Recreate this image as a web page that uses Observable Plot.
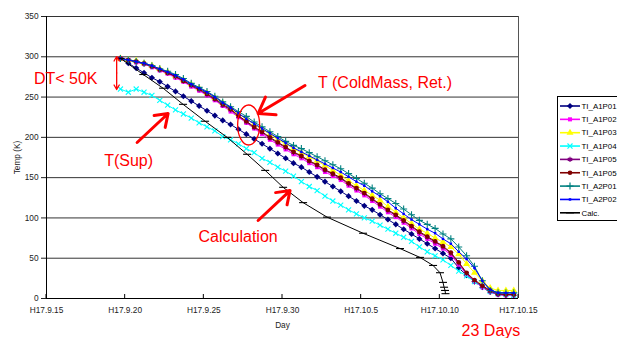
<!DOCTYPE html>
<html><head><meta charset="utf-8">
<script src="https://cdn.jsdelivr.net/npm/d3@7"></script>
<script src="https://cdn.jsdelivr.net/npm/@observablehq/plot@0.6"></script>
<style>
html,body{margin:0;padding:0;background:#fff;}
#chart{width:617px;height:338px;overflow:hidden;}
</style></head><body><div id="chart"></div>
<script>
// ---- data (days since H17.9.15, temperature in K) ----
const days = [4.7,5.2,5.7,6.2,6.7,7.2,7.7,8.2,8.7,9.2,9.7,10.2,10.7,11.2,11.7,12.2,12.7,13.2,13.7,14.2,14.7,15.2,15.7,16.2,16.7,17.2,17.7,18.2,18.7,19.2,19.7,20.2,20.7,21.2,21.7,22.2,22.7,23.2,23.7,24.2,24.7,25.2,25.7,26.2,26.7,27.2,27.7,28.2,28.7,29.2,29.7];
const TI_A1P01 = [298,292,286,280,274,269,263,257,251,245,239,233,227,221,216,210,204,198,192,186,180,174,168,163,157,151,145,139,133,127,121,115,110,104,98,92,86,80,74,68,62,56,50,38,29,21,14,8,5,4,4];
const TI_A1P02 = [298,296,293,291,287,283,279,274,269,263,258,252,246,239,232,225,218,211,204,197,191,185,179,174,168,163,157,152,147,140,134,128,121,114,107,101,94,87,80,74,68,62,54,42,30,21,14,8,5,4,4];
const TI_A1P03 = [298,296,295,292,289,285,281,276,271,266,261,255,249,243,236,229,223,216,210,204,197,192,186,181,176,171,165,159,153,146,140,134,128,122,114,107,100,93,86,81,75,70,64,55,43,32,22,13,10,10,10];
const TI_A1P04 = [260,256,260,256,252,246,240,234,229,224,218,213,208,201,197,192,186,181,174,169,163,158,152,145,139,134,127,121,116,110,105,100,96,91,86,81,76,71,64,58,53,48,41,34,28,21,15,9,6,5,4];
const TI_A1P05 = [298,296,294,291,288,284,280,275,270,264,259,253,247,240,234,226,219,212,206,199,193,187,181,176,170,165,159,154,149,142,136,130,123,116,109,103,96,89,82,76,70,64,56,44,31,22,15,9,5,5,5];
const TI_A1P05b = [298,296,294,292,288,284,280,276,270,265,260,254,248,241,235,227,220,213,207,200,194,188,182,177,171,166,160,155,150,143,137,131,124,117,110,104,97,90,83,77,71,65,57,45,32,23,16,10,6,5,5];
const TI_A2P01 = [298,296,294,292,289,285,282,278,273,267,262,257,251,244,238,232,226,219,213,207,201,195,190,186,181,176,171,166,161,155,149,143,137,130,124,118,111,104,97,92,87,80,74,64,53,40,22,10,7,7,7];
const TI_A2P02 = [298,296,294,292,289,285,281,277,272,266,261,256,250,243,237,230,223,217,211,205,199,193,187,182,177,172,167,162,157,151,145,140,133,127,120,112,105,98,92,86,81,74,68,58,49,38,22,11,7,7,7];
const calcDays = [4.7,6.15,7.41,8.68,10.08,11.48,12.75,13.9,15.04,16.31,17.83,20.12,22.47,23.74,24.57,25.01,25.2,25.27,25.33,25.36];
const calcTemp = [298,278,261,241,220,200,179,159,138,119,101,81,62,51,41,32,20,14,10,6];

const seriesNames = ["TI_A1P01","TI_A1P02","TI_A1P03","TI_A1P04","TI_A1P05","TI_A1P05","TI_A2P01","TI_A2P02","Calc."];
const seriesValues = [TI_A1P01,TI_A1P02,TI_A1P03,TI_A1P04,TI_A1P05,TI_A1P05b,TI_A2P01,TI_A2P02];

const xTickDays = [0,5,10,15,20,25,30];
const xTickLabels = ["H17.9.15","H17.9.20","H17.9.25","H17.9.30","H17.10.5","H17.10.10","H17.10.15"];
const yTicks = [0,50,100,150,200,250,300,350];

// annotation texts and where they sit (day, K)
const noteText = ["DT< 50K","T(Sup)","T (ColdMass, Ret.)","Calculation","23 Days"];
const noteDay = [1.22,5.22,21.52,12.18,28.25];
const noteTemp = [273,171,268,76,-40];

// ---- styles ----
const dashSymbol = {draw(ctx, size){const w = Math.sqrt(size) * 0.75; ctx.moveTo(-w, 0); ctx.lineTo(w, 0);}};
const rhombSymbol = {draw(ctx, size){const h = Math.sqrt(size) * 0.72; ctx.moveTo(0, -h); ctx.lineTo(h, 0); ctx.lineTo(0, h); ctx.lineTo(-h, 0); ctx.closePath();}};
const styles = [
  {color:"#000080", symbol:rhombSymbol, r:2.4, filled:true},
  {color:"#FF00FF", symbol:"square", r:2.3, filled:true},
  {color:"#FFFF00", symbol:"triangle", r:2.6, filled:true},
  {color:"#00FFFF", symbol:"times", r:2.4, filled:false},
  {color:"#800080", symbol:"asterisk", r:2.4, filled:false},
  {color:"#800000", symbol:"circle", r:2.3, filled:true},
  {color:"#008080", symbol:"plus", r:2.4, filled:false},
  {color:"#0000FF", symbol:"square", r:1.4, filled:true},
  {color:"#000000", symbol:dashSymbol, r:3.0, filled:false}
];

const seriesRows = seriesValues.map(vals => days.map((d, i) => ({day: d, T: vals[i]})));
seriesRows.push(calcDays.map((d, i) => ({day: d, T: calcTemp[i]})));

const seriesMarks = [];
seriesRows.forEach((rows, k) => {
  const s = styles[k];
  seriesMarks.push(Plot.line(rows, {x: "day", y: "T", stroke: s.color, strokeWidth: 1}));
  seriesMarks.push(Plot.dot(rows, s.filled
    ? {x: "day", y: "T", symbol: () => s.symbol, r: s.r, fill: s.color, stroke: "none"}
    : {x: "day", y: "T", symbol: () => s.symbol, r: s.r, stroke: s.color, strokeWidth: 1.1, fill: "none"}));
});

const notes = noteText.map((t, i) => ({text: t, day: noteDay[i], T: noteTemp[i]}));
const red = "#FF0000";
const font = "'Liberation Sans', Arial, sans-serif";

const chart = Plot.plot({
  width: 617, height: 338,
  marginLeft: 46, marginRight: 99, marginTop: 16, marginBottom: 40,
  x: {domain: [0, 30]},
  y: {domain: [0, 350]},
  symbol: {type: "identity"},
  style: {fontFamily: font, fontSize: "8.3px", color: "#222", background: "#fff", overflow: "visible"},
  marks: [
    Plot.ruleY(yTicks, {stroke: "#333", strokeWidth: 1}),
    Plot.ruleX([30], {stroke: "#555"}),
    Plot.axisY({ticks: yTicks, tickSize: 5, tickPadding: 3, label: "Temp (K)", labelAnchor: "center", labelArrow: "none", labelOffset: 32}),
    Plot.axisX({ticks: xTickDays, tickFormat: d => xTickLabels[xTickDays.indexOf(d)], tickSize: 0, tickPadding: 9, label: "Day", labelAnchor: "center", labelArrow: "none", labelOffset: 29}),
    Plot.ruleX([0], {stroke: "#000"}),
    Plot.ruleY([0], {stroke: "#000"}),
    ...seriesMarks,
    // double arrow for DT
    Plot.arrow([0], {x1: () => 4.46, y1: () => 280, x2: () => 4.46, y2: () => 300.3, stroke: red, strokeWidth: 1.3, headLength: 6, headAngle: 60}),
    Plot.arrow([0], {x1: () => 4.46, y1: () => 280, x2: () => 4.46, y2: () => 259.4, stroke: red, strokeWidth: 1.3, headLength: 6, headAngle: 60}),
    // pointer arrows
    Plot.arrow([
      {x1: 5.76, y1: 193.6, x2: 7.73, y2: 229.6},
      {x1: 16.43, y1: 264.4, x2: 13.45, y2: 229.6},
      {x1: 13.45, y1: 96.8, x2: 15.48, y2: 134}
    ], {x1: "x1", y1: "y1", x2: "x2", y2: "y2", stroke: red, strokeWidth: 3, headLength: 9, headAngle: 70}),
    Plot.text(notes, {x: "day", y: "T", text: "text", fill: red, fontSize: 16, textAnchor: "middle", fontFamily: font})
  ]
});
document.getElementById("chart").appendChild(chart);

// ---- extra decorations drawn with the plot's own scales ----
const svg = d3.select(chart);
const sx = chart.scale("x"), sy = chart.scale("y");
const g = svg.append("g");
xTickDays.forEach(t => {
  g.append("line").attr("x1", sx.apply(t)).attr("x2", sx.apply(t))
    .attr("y1", sy.apply(0)).attr("y2", sy.apply(0) - 4).attr("stroke", "#000");
});
// ellipse around cold-mass lines
g.append("ellipse").attr("cx", sx.apply(12.88)).attr("cy", sy.apply(214.7))
  .attr("rx", 11).attr("ry", 20).attr("fill", "none").attr("stroke", red).attr("stroke-width", 1.3);

// legend
const lg = svg.append("g").attr("font-family", font).attr("font-size", 7.9).attr("text-anchor", "start");
lg.append("rect").attr("x", 557.5).attr("y", 96.5).attr("width", 80).attr("height", 124)
  .attr("fill", "#fff").attr("stroke", "#000");
const symMap = {square: d3.symbolSquare, triangle: d3.symbolTriangle, times: d3.symbolTimes,
  asterisk: d3.symbolAsterisk, circle: d3.symbolCircle, plus: d3.symbolPlus};
seriesNames.forEach((name, i) => {
  const s = styles[i];
  const y = 106 + i * 13.35;
  lg.append("line").attr("x1", 560).attr("x2", 580).attr("y1", y).attr("y2", y)
    .attr("stroke", s.color).attr("stroke-width", 1.6);
  const sym = typeof s.symbol === "string" ? symMap[s.symbol] : s.symbol;
  lg.append("path").attr("transform", `translate(570,${y})`)
    .attr("d", d3.symbol(sym, Math.PI * s.r * s.r)())
    .attr("fill", s.filled ? s.color : "none").attr("stroke", s.filled ? "none" : s.color).attr("stroke-width", 1.2);
  lg.append("text").attr("x", 581.5).attr("y", y).attr("dy", "0.35em").attr("text-anchor", "start").attr("fill", "#000").text(name);
});
</script>
</body></html>
